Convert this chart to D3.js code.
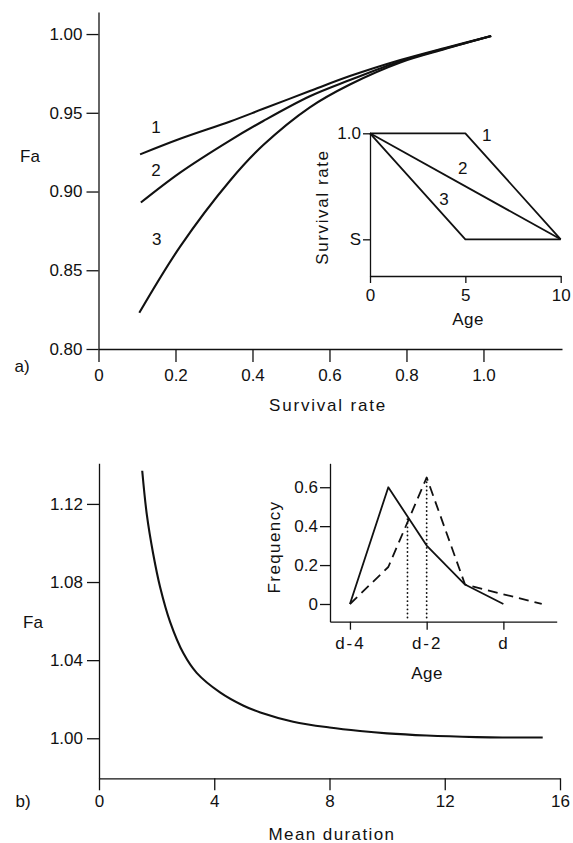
<!DOCTYPE html>
<html>
<head>
<meta charset="utf-8">
<script src="https://cdn.jsdelivr.net/npm/d3@7"></script>
<style>
  body { margin: 0; background: #fff; }
  svg { display: block; }
  text { font-family: "Liberation Sans", Arial, sans-serif; fill: #111; }
  .axis path, .axis line { stroke: #111; stroke-width: 1.3; }
  .axis text { font-size: 17px; fill: #111; }
</style>
</head>
<body>
<div id="chart"></div>
<script>
// panel a: Fa against survival rate, three survival schedules
var survA1 = [0.108, 0.212, 0.342, 0.428, 0.549, 0.653, 0.784, 0.9, 1.02];
var faA1 = [0.9236, 0.9335, 0.9445, 0.9525, 0.9638, 0.9733, 0.9835, 0.9912, 0.9987];
var survA2 = [0.11, 0.212, 0.342, 0.428, 0.549, 0.653, 0.784, 0.9, 1.02];
var faA2 = [0.893, 0.912, 0.9325, 0.9448, 0.9605, 0.9708, 0.9828, 0.9908, 0.9987];
var survA3 = [0.106, 0.212, 0.342, 0.428, 0.549, 0.653, 0.784, 0.9, 1.02];
var faA3 = [0.823, 0.865, 0.907, 0.9295, 0.9535, 0.968, 0.982, 0.9905, 0.9987];
var curveNamesA = ["1", "2", "3"];
var curveLabelsA = [[0.149, 0.9411], [0.149, 0.9137], [0.151, 0.8698]];
var xTicksA = [0, 0.2, 0.4, 0.6, 0.8, 1.0];
var yTicksA = [0.80, 0.85, 0.90, 0.95, 1.00];

// inset a: survival rate by age (S coded as 0.5)
var insetAgeA = [[0, 5, 10], [0, 10], [0, 5, 10]];
var insetRateA = [[1.0, 1.0, 0.5], [1.0, 0.5], [1.0, 0.5, 0.5]];
var insetLabelsA = [[6.12, 0.992], [4.86, 0.835], [3.88, 0.69]];
var insetXTicksA = [0, 5, 10];
var insetYTicksA = [0.5, 1.0];
var insetYTickNamesA = ["S", "1.0"];

// panel b: Fa against mean duration
var duration = [1.5, 1.66, 1.88, 2.12, 2.47, 2.93, 3.39, 4.2, 5.0, 5.6, 6.74, 8, 9.06, 10, 11.37, 13.1, 14, 15.4];
var faB = [1.137, 1.1145, 1.0945, 1.0775, 1.0595, 1.0435, 1.0335, 1.0235, 1.0168, 1.0132, 1.0085, 1.0055, 1.0037, 1.0025, 1.0014, 1.0006, 1.0004, 1.0004];
var xTicksB = [0, 4, 8, 12, 16];
var yTicksB = [1.00, 1.04, 1.08, 1.12];

// inset b: age frequency distributions (age relative to d)
var solidAge = [-4, -3, -2, -1, 0];
var solidFreq = [0, 0.6, 0.3, 0.1, 0];
var dashedAge = [-4, -3, -2, -1, 1];
var dashedFreq = [0, 0.19, 0.65, 0.1, 0];
var meanAge = [-2.5, -2];
var meanTop = [0.45, 0.65];
var meanBottom = -0.07;
var insetXTicksB = [-4, -2, 0];
var insetXTickNamesB = ["d-4", "d-2", "d"];
var insetYTicksB = [0, 0.2, 0.4, 0.6];

var width = 573, height = 843;

var svg = d3.select("#chart").append("svg")
  .attr("width", width)
  .attr("height", height);

function zip(xs, ys) {
  return xs.map(function (x, i) { return [x, ys[i]]; });
}

function drawLine(x, y, pts, opts) {
  var line = d3.line()
    .x(d => x(d[0]))
    .y(d => y(d[1]))
    .curve(opts.curve || d3.curveLinear);
  return svg.append("path")
    .attr("d", line(pts))
    .attr("fill", "none")
    .attr("stroke", "#111")
    .attr("stroke-width", opts.width || 2)
    .attr("stroke-linejoin", "round")
    .attr("stroke-dasharray", opts.dash || null)
    .attr("stroke-linecap", opts.cap || "butt");
}

function label(txt, px, py, opts) {
  opts = opts || {};
  var t = svg.append("text")
    .attr("x", px)
    .attr("y", py)
    .attr("font-size", opts.size || 17)
    .attr("text-anchor", opts.anchor || "middle")
    .attr("letter-spacing", opts.spacing || 0)
    .text(txt);
  if (opts.rotate) {
    t.attr("transform", "rotate(-90," + px + "," + py + ")");
  }
  return t;
}

var smooth = d3.curveCatmullRom.alpha(0.5);

// ---------- panel a ----------
var xA = d3.scaleLinear().domain([0, 1.204]).range([98.5, 562]);
var yA = d3.scaleLinear().domain([0.80, 1.014]).range([349, 12]);

svg.append("g").attr("class", "axis")
  .attr("transform", "translate(0," + yA(0.80) + ")")
  .call(d3.axisBottom(xA).tickValues(xTicksA).tickSize(13).tickSizeOuter(0).tickPadding(7)
    .tickFormat(d => d === 0 ? "0" : d3.format(".1f")(d)));

svg.append("g").attr("class", "axis")
  .attr("transform", "translate(" + xA(0) + ",0)")
  .call(d3.axisLeft(yA).tickValues(yTicksA).tickSize(12).tickSizeOuter(0).tickPadding(4)
    .tickFormat(d3.format(".2f")));

[zip(survA1, faA1), zip(survA2, faA2), zip(survA3, faA3)].forEach(function (pts) {
  drawLine(xA, yA, pts, { curve: smooth, width: 2.1 });
});

curveNamesA.forEach(function (n, i) {
  label(n, xA(curveLabelsA[i][0]), yA(curveLabelsA[i][1]) + 6);
});

label("Fa", 30, 162);
label("a)", 22, 372);
label("Survival rate", 328, 411, { spacing: 1.8 });

// ---------- inset a ----------
var xIA = d3.scaleLinear().domain([0, 10]).range([370, 560.7]);
var yIA = d3.scaleLinear().domain([0.327, 1.0]).range([276, 133.3]);

svg.append("g").attr("class", "axis")
  .attr("transform", "translate(0," + yIA(0.327) + ")")
  .call(d3.axisBottom(xIA).tickValues(insetXTicksA).tickSize(7).tickSizeOuter(0).tickPadding(6)
    .tickFormat(d3.format("d")));

svg.append("g").attr("class", "axis")
  .attr("transform", "translate(" + xIA(0) + ",0)")
  .call(d3.axisLeft(yIA).tickValues(insetYTicksA).tickSize(7).tickSizeOuter(0).tickPadding(2)
    .tickFormat((d, i) => insetYTickNamesA[i]));

insetAgeA.forEach(function (ages, i) {
  drawLine(xIA, yIA, zip(ages, insetRateA[i]), { width: 1.8 });
});

curveNamesA.forEach(function (n, i) {
  label(n, xIA(insetLabelsA[i][0]), yIA(insetLabelsA[i][1]) + 6);
});

label("Survival rate", 328, 207, { rotate: true, spacing: 1.6 });
label("Age", 468, 325, { spacing: 0.5 });

// ---------- panel b ----------
var xB = d3.scaleLinear().domain([0, 16]).range([99, 560]);
var yB = d3.scaleLinear().domain([0.9795, 1.1408]).range([778.3, 463.3]);

svg.append("g").attr("class", "axis")
  .attr("transform", "translate(0," + yB(0.9795) + ")")
  .call(d3.axisBottom(xB).tickValues(xTicksB).tickSize(12).tickSizeOuter(0).tickPadding(5)
    .tickFormat(d3.format("d")));

svg.append("g").attr("class", "axis")
  .attr("transform", "translate(" + xB(0) + ",0)")
  .call(d3.axisLeft(yB).tickValues(yTicksB).tickSize(12).tickSizeOuter(0).tickPadding(4)
    .tickFormat(d3.format(".2f")));

drawLine(xB, yB, zip(duration, faB), { curve: smooth, width: 2.1 });

label("Fa", 33, 628);
label("b)", 23, 807);
label("Mean duration", 332, 840, { spacing: 1.4 });

// ---------- inset b ----------
var xIB = d3.scaleLinear().domain([-4.52, 1.39]).range([330, 556.7]);
var yIB = d3.scaleLinear().domain([-0.091, 0.723]).range([621.7, 463.3]);

svg.append("g").attr("class", "axis")
  .attr("transform", "translate(0," + yIB(-0.091) + ")")
  .call(d3.axisBottom(xIB).tickValues(insetXTicksB).tickSize(8).tickSizeOuter(0).tickPadding(7)
    .tickFormat((d, i) => insetXTickNamesB[i]))
  .selectAll("text").attr("letter-spacing", 2);

svg.append("g").attr("class", "axis")
  .attr("transform", "translate(" + xIB(-4.52) + ",0)")
  .call(d3.axisLeft(yIB).tickValues(insetYTicksB).tickSize(10).tickSizeOuter(0).tickPadding(2)
    .tickFormat(d => d === 0 ? "0" : d3.format(".1f")(d)));

meanAge.forEach(function (a, i) {
  drawLine(xIB, yIB, [[a, meanBottom], [a, meanTop[i]]], { width: 1.8, dash: "0.1,4", cap: "round" });
});

drawLine(xIB, yIB, zip(solidAge, solidFreq), { width: 1.8 });
drawLine(xIB, yIB, zip(dashedAge, dashedFreq), { width: 1.8, dash: "10,6" });

label("Frequency", 280, 547, { rotate: true, spacing: 1.4 });
label("Age", 427, 679, { spacing: 0.5 });
</script>
</body>
</html>
